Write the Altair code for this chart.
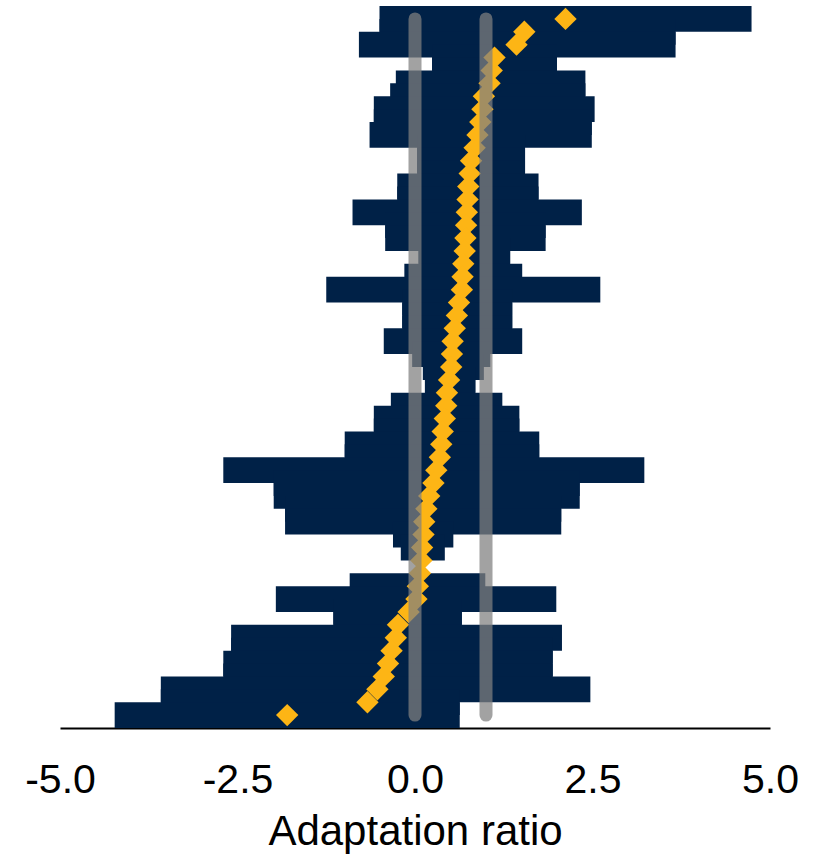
import altair as alt
import pandas as pd

# Point estimates of the adaptation ratio, sorted from largest (top) to smallest (bottom)
estimate = [
    2.12, 1.54, 1.43, 1.12, 1.08, 1.05, 0.97, 0.95, 0.92, 0.88,
    0.84, 0.79, 0.77, 0.75, 0.74, 0.73, 0.72, 0.71, 0.70, 0.68,
    0.67, 0.66, 0.62, 0.59, 0.56, 0.53, 0.52, 0.51, 0.48, 0.45,
    0.44, 0.42, 0.39, 0.37, 0.35, 0.30, 0.26, 0.20, 0.16, 0.13,
    0.12, 0.10, 0.09, 0.07, 0.04, 0.02, -0.09, -0.24, -0.27, -0.33,
    -0.38, -0.44, -0.53, -0.67, -1.80,
]

# Interval bounds for each estimate
lower = [
    -0.50, -0.50, -0.79, 0.24, 0.24, -0.27, -0.35, -0.58, -0.58, -0.64,
    0.03, 0.03, 0.03, -0.25, -0.25, -0.88, -0.42, -0.42, 0.05, 0.05,
    -0.15, -1.25, -0.18, -0.18, -0.18, -0.44, -0.04, 0.11, 0.14, 0.14,
    -0.34, -0.58, -0.58, -0.99, -0.99, -2.70, -1.99, -1.99, -1.83, -1.83,
    -0.31, -0.20, 0.09, 0.07, -0.92, -1.96, -1.15, -1.15, -2.59, -2.59,
    -2.70, -2.70, -3.58, -3.58, -4.23,
]
upper = [
    4.74, 3.67, 3.67, 2.00, 2.00, 2.40, 2.40, 2.53, 2.49, 2.49,
    1.55, 1.55, 1.55, 1.74, 1.74, 2.35, 1.84, 1.84, 1.34, 1.34,
    1.51, 2.61, 1.37, 1.37, 1.37, 1.51, 1.06, 0.97, 0.85, 0.85,
    1.23, 1.47, 1.47, 1.75, 1.75, 3.23, 2.32, 2.32, 2.06, 2.06,
    0.54, 0.42, 0.09, 0.07, 0.99, 1.99, 0.66, 0.66, 2.07, 1.94,
    1.94, 1.94, 2.47, 0.63, 0.63,
]

# Reference values drawn as vertical guides
reference = [0.0, 1.0]

# Axis ticks
x_ticks = [-5.0, -2.5, 0.0, 2.5, 5.0]
x_domain = [-5.0, 5.0]

NAVY = "#002147"
GOLD = "#FDB515"

rows = list(range(len(estimate)))
df = pd.DataFrame({"row": rows, "estimate": estimate, "lower": lower, "upper": upper})
ref_df = pd.DataFrame({"value": reference, "first": rows[0], "last": rows[-1]})

x_scale = alt.Scale(domain=x_domain, nice=False, zero=False)
y_scale = alt.Scale(domain=[rows[0] - 1, rows[-1] + 1], reverse=True, nice=False, zero=False)

x_axis = alt.Axis(
    values=x_ticks,
    labelExpr="replace(format(datum.value, '.1f'), '\u2212', '-')",
    title="Adaptation ratio",
    ticks=False,
    grid=False,
    domainColor="black",
    domainWidth=2,
    labelFont="Liberation Sans",
    labelFontSize=41,
    labelColor="black",
    labelPadding=32,
    labelFlush=False,
    titleFont="Liberation Sans",
    titleFontSize=42,
    titleFontWeight="normal",
    titleColor="black",
    titlePadding=11,
)

base = alt.Chart(df)

intervals = base.transform_calculate(
    y_top="datum.row - 1", y_bottom="datum.row + 1"
).mark_rect(color=NAVY).encode(
    x=alt.X("lower:Q", scale=x_scale, axis=x_axis),
    x2="upper:Q",
    y=alt.Y("y_top:Q", scale=y_scale, axis=None),
    y2="y_bottom:Q",
)

points = base.mark_point(shape="diamond", filled=True, size=500, color=GOLD, opacity=1).encode(
    x=alt.X("estimate:Q", scale=x_scale),
    y=alt.Y("row:Q", scale=y_scale),
)

guides = alt.Chart(ref_df).mark_rule(
    color="#7f7f7f", opacity=0.73, strokeWidth=13, strokeCap="round"
).encode(
    x=alt.X("value:Q", scale=x_scale),
    y=alt.Y("first:Q", scale=y_scale),
    y2="last:Q",
)

chart = alt.layer(intervals, points, guides).properties(
    width=710,
    height=722,
    autosize=alt.AutoSizeParams(type="none"),
    padding={"left": 60, "top": 6, "right": 48, "bottom": 132},
).configure_view(stroke=None)

chart.save("out.html", embed_options={"renderer": "svg", "actions": False})
